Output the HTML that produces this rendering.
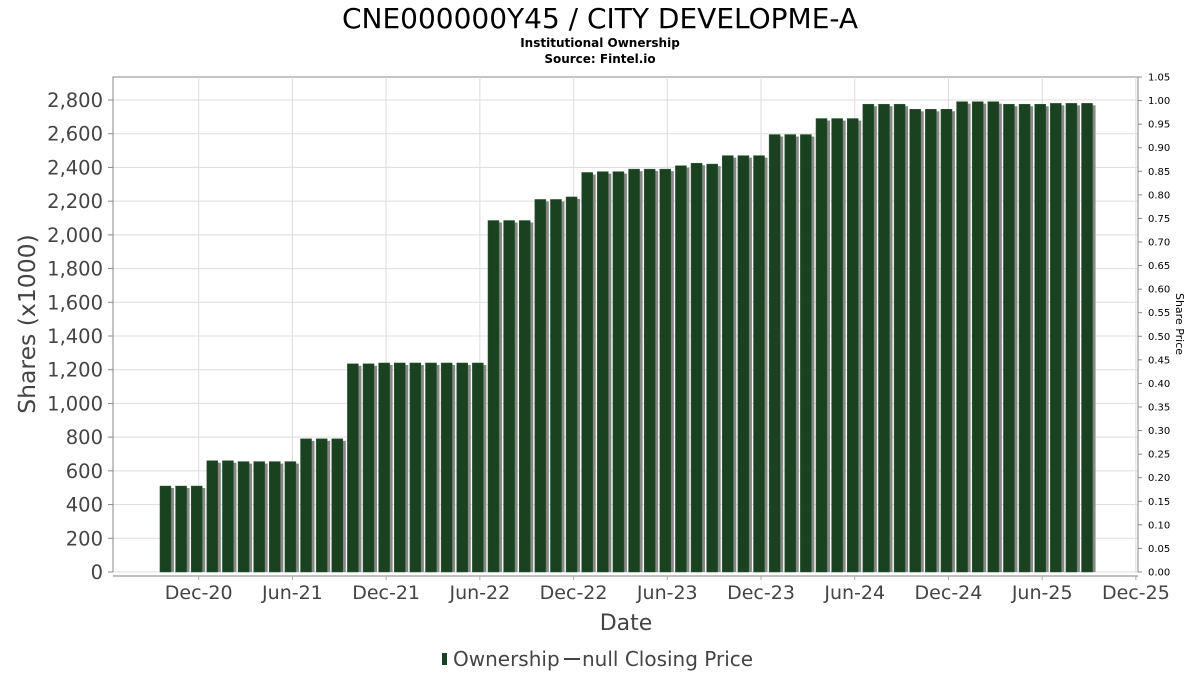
<!DOCTYPE html>
<html><head><meta charset="utf-8">
<style>
body{margin:0;background:#fff;font-family:"DejaVu Sans","Liberation Sans",sans-serif;}
svg text{font-family:"DejaVu Sans","Liberation Sans",sans-serif;}
</style></head>
<body>
<svg id="chart" width="1200" height="675" xmlns="http://www.w3.org/2000/svg">
<text x="600" y="28" text-anchor="middle" font-size="28" fill="#000">CNE000000Y45 / CITY DEVELOPME-A</text>
<text x="600" y="47" text-anchor="middle" font-size="12" font-weight="bold" fill="#000">Institutional Ownership</text>
<text x="600" y="63" text-anchor="middle" font-size="12" font-weight="bold" fill="#000">Source: Fintel.io</text>
<g id="grid"></g>
<g id="bars"></g>
<g id="axes"></g>
<text x="0" y="0" transform="translate(35,324) rotate(-90)" text-anchor="middle" font-size="23.5" fill="#444">Shares (x1000)</text>
<text x="0" y="0" transform="translate(1176,324) rotate(90)" text-anchor="middle" font-size="11" fill="#000">Share Price</text>
<text x="626" y="630" text-anchor="middle" font-size="22" fill="#444">Date</text>
<g>
<rect x="442" y="653" width="5" height="12" fill="#1a4221"/>
<text x="453" y="666" font-size="20" fill="#444">Ownership</text>
<line x1="564" y1="659" x2="580" y2="659" stroke="#444" stroke-width="2"/>
<text x="582" y="666" font-size="20" fill="#444">null Closing Price</text>
</g>
</svg>
<script>
const values=[510,510,510,660,660,655,655,655,655,790,790,790,1235,1235,1240,1240,1240,1240,1240,1240,1240,2085,2085,2085,2210,2210,2225,2370,2375,2375,2390,2390,2390,2410,2425,2420,2470,2470,2470,2595,2595,2595,2690,2690,2690,2775,2775,2775,2745,2745,2745,2790,2790,2790,2775,2775,2775,2780,2780,2780];
const startMonth=-2; // months relative to Dec-20
const yTicks=[0,200,400,600,800,1000,1200,1400,1600,1800,2000,2200,2400,2600,2800];
const rTicks=[0,0.05,0.1,0.15,0.2,0.25,0.3,0.35,0.4,0.45,0.5,0.55,0.6,0.65,0.7,0.75,0.8,0.85,0.9,0.95,1.0,1.05];
const xLabels=["Dec-20","Jun-21","Dec-21","Jun-22","Dec-22","Jun-23","Dec-23","Jun-24","Dec-24","Jun-25","Dec-25"];
const NS="http://www.w3.org/2000/svg";
const L=113,R=1138,T=77,B=572;
const y=v=>B-v*(472/2800);
const yr=v=>B-v*((B-T)/1.05);
const x=m=>198.7+15.62*m;
function mk(tag,attrs,parent){const e=document.createElementNS(NS,tag);for(const k in attrs)e.setAttribute(k,attrs[k]);parent.appendChild(e);return e;}
const grid=document.getElementById('grid'),bars=document.getElementById('bars'),axes=document.getElementById('axes');
mk('rect',{x:L,y:T,width:R-L,height:B-T,fill:'#fff',stroke:'#888','stroke-width':1},grid);
yTicks.forEach(v=>{
 const g=mk('line',{x1:L,x2:R,y1:y(v),y2:y(v),stroke:'#ddd','stroke-width':1},grid);
 
 
 mk('line',{x1:L-5,x2:L,y1:y(v),y2:y(v),stroke:'#888'},axes);
 const t=mk('text',{x:L-10,y:y(v)+7,'text-anchor':'end','font-size':19.5,fill:'#444'},axes);
 t.textContent=v.toLocaleString('en-US');
 
 
});
xLabels.forEach((lab,i)=>{
 const xx=x(i*6);
 const g=mk('line',{x1:xx,x2:xx,y1:T,y2:B,stroke:'#ddd'},grid);
 
 
 mk('line',{x1:xx,x2:xx,y1:576,y2:580,stroke:'#aaa'},axes);
 const t=mk('text',{x:xx,y:599,'text-anchor':'middle','font-size':19,fill:'#444'},axes);
 t.textContent=lab;
 
 
});
mk('line',{x1:L,x2:R,y1:576,y2:576,stroke:'#aaa','stroke-width':1.5},axes);
mk('line',{x1:L,x2:L,y1:T,y2:B,stroke:'#888'},axes);
mk('line',{x1:R,x2:R,y1:T,y2:B,stroke:'#888'},axes);
rTicks.forEach(v=>{
 mk('line',{x1:R,x2:R+4,y1:yr(v),y2:yr(v),stroke:'#888'},axes);
 const t=mk('text',{x:R+10,y:yr(v)+3.5,'font-size':10,fill:'#000'},axes);
 t.textContent=v.toFixed(2);
 
 
});
values.forEach((v,i)=>{
 const xl=x(startMonth+i)-7.5;
 mk('rect',{x:xl+3,y:y(v)+2,width:11,height:B-y(v)-2,fill:'#888'},bars);
 const r=mk('rect',{x:xl,y:y(v),width:11,height:B-y(v),fill:'#1a4221',stroke:'#2e5a35','stroke-width':0.5},bars);
 
 
});
</script>
</body></html>
